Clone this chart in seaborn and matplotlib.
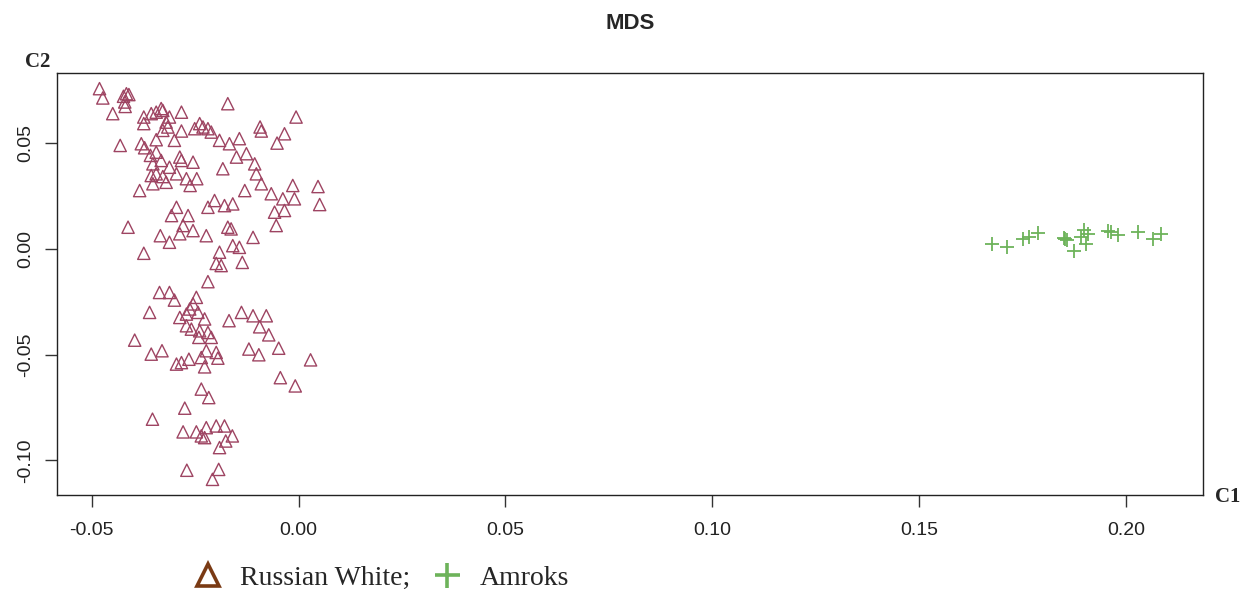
import matplotlib
matplotlib.use("Agg")
import matplotlib.pyplot as plt
from matplotlib.lines import Line2D
import seaborn as sns

# MDS coordinates, Russian White (triangles)
rw_c1 = [-0.0481, -0.0473, -0.0423, -0.0416, -0.0410, -0.0420, -0.0419, -0.0449, -0.0332, -0.0328,
         -0.0344, -0.0356, -0.0374, -0.0374, -0.0312, -0.0283, -0.0320, -0.0316, -0.0328, -0.0283,
         -0.0300, -0.0344, -0.0171, -0.0006, -0.0239, -0.0231, -0.0219, -0.0251, -0.0211, -0.0191,
         -0.0167, -0.0143, -0.0093, -0.0090, -0.0034, -0.0052, -0.0431, -0.0380, -0.0372, -0.0358,
         -0.0344, -0.0332, -0.0352, -0.0312, -0.0287, -0.0283, -0.0255, -0.0295, -0.0356, -0.0344,
         -0.0328, -0.0352, -0.0320, -0.0384, -0.0271, -0.0246, -0.0262, -0.0183, -0.0150, -0.0126,
         -0.0106, -0.0102, -0.0090, -0.0130, -0.0066, -0.0014, 0.0047, -0.0038, -0.0010, 0.0051,
         -0.0058, -0.0034, -0.0203, -0.0219, -0.0179, -0.0159, -0.0295, -0.0307, -0.0267, -0.0279,
         -0.0287, -0.0255, -0.0334, -0.0312, -0.0412, -0.0223, -0.0171, -0.0163, -0.0110, -0.0054,
         -0.0374, -0.0191, -0.0159, -0.0143,
         -0.0199, -0.0187, -0.0136, -0.0219, -0.0336, -0.0312, -0.0300, -0.0247, -0.0255, -0.0263,
         -0.0360, -0.0287, -0.0271, -0.0243, -0.0227, -0.0271, -0.0259, -0.0239, -0.0219, -0.0241,
         -0.0211, -0.0168, -0.0138, -0.0110, -0.0078, -0.0094, -0.0072, -0.0396, -0.0356, -0.0330,
         -0.0295, -0.0283, -0.0265, -0.0235, -0.0223, -0.0227, -0.0199, -0.0195, -0.0120, -0.0096,
         -0.0048, 0.0029, -0.0044, -0.0008, -0.0235, -0.0217, -0.0275, -0.0353, -0.0279, -0.0247,
         -0.0223, -0.0199, -0.0179, -0.0235, -0.0227, -0.0160, -0.0176, -0.0191, -0.0270, -0.0193,
         -0.0208]
rw_c2 = [0.0755, 0.0711, 0.0719, 0.0731, 0.0727, 0.0692, 0.0671, 0.0637, 0.0661, 0.0652,
         0.0644, 0.0637, 0.0621, 0.0590, 0.0621, 0.0644, 0.0597, 0.0574, 0.0558, 0.0555,
         0.0511, 0.0514, 0.0684, 0.0621, 0.0590, 0.0574, 0.0566, 0.0566, 0.0550, 0.0511,
         0.0495, 0.0519, 0.0574, 0.0555, 0.0542, 0.0498, 0.0487, 0.0495, 0.0476, 0.0440,
         0.0455, 0.0416, 0.0400, 0.0384, 0.0432, 0.0416, 0.0408, 0.0353, 0.0345, 0.0353,
         0.0340, 0.0306, 0.0313, 0.0274, 0.0330, 0.0330, 0.0298, 0.0377, 0.0432, 0.0448,
         0.0400, 0.0353, 0.0306, 0.0274, 0.0259, 0.0298, 0.0293, 0.0235, 0.0235, 0.0208,
         0.0172, 0.0180, 0.0227, 0.0195, 0.0203, 0.0211, 0.0195, 0.0156, 0.0156, 0.0109,
         0.0070, 0.0085, 0.0061, 0.0030, 0.0101, 0.0061, 0.0101, 0.0093, 0.0053, 0.0109,
         -0.0022, -0.0017, 0.0014, 0.0006,
         -0.0070, -0.0080, -0.0065, -0.0156, -0.0207, -0.0207, -0.0243, -0.0230, -0.0261, -0.0285,
         -0.0301, -0.0325, -0.0309, -0.0301, -0.0332, -0.0364, -0.0380, -0.0388, -0.0396, -0.0419,
         -0.0419, -0.0340, -0.0301, -0.0317, -0.0317, -0.0369, -0.0407, -0.0432, -0.0498, -0.0482,
         -0.0545, -0.0538, -0.0522, -0.0514, -0.0482, -0.0558, -0.0490, -0.0517, -0.0474, -0.0501,
         -0.0470, -0.0525, -0.0609, -0.0648, -0.0663, -0.0703, -0.0753, -0.0805, -0.0865, -0.0865,
         -0.0845, -0.0837, -0.0837, -0.0884, -0.0892, -0.0884, -0.0908, -0.0939, -0.1046, -0.1042,
         -0.1089]

# MDS coordinates, Amroks (plus signs)
am_c1 = [0.1675, 0.1712, 0.1750, 0.1766, 0.1786, 0.1853, 0.1858, 0.1850, 0.1874, 0.1891,
         0.1899, 0.1903, 0.1907, 0.1955, 0.1963, 0.1981, 0.2029, 0.2064, 0.2084]
am_c2 = [0.0022, 0.0006, 0.0046, 0.0057, 0.0074, 0.0046, 0.0041, 0.0049, -0.0009, 0.0053,
         0.0088, 0.0022, 0.0069, 0.0082, 0.0077, 0.0064, 0.0077, 0.0046, 0.0069]

x_ticks = [-0.05, 0.00, 0.05, 0.10, 0.15, 0.20]
y_ticks = [-0.10, -0.05, 0.00, 0.05]
groups = ["Russian White;", "Amroks"]

tri_col = "#9E4462"
plus_col = "#6DB35A"

sns.set_style("white")
plt.rcParams['font.family'] = ['Liberation Sans', 'DejaVu Sans']

fig = plt.figure(figsize=(12.51, 5.97), dpi=100)
ax = fig.add_axes([0.0456, 0.1709, 0.9164, 0.7068])

sns.scatterplot(x=rw_c1, y=rw_c2, marker="^", s=78, color=tri_col,
                facecolor="none", edgecolor=tri_col, linewidth=1.0, ax=ax, legend=False)
sns.scatterplot(x=am_c1, y=am_c2, marker="+", s=110, color=plus_col,
                linewidth=1.3, ax=ax, legend=False)

# R-style 4% padding around data range
all_x = rw_c1 + am_c1
all_y = rw_c2 + am_c2
dx = (max(all_x) - min(all_x)) * 0.04
dy = (max(all_y) - min(all_y)) * 0.04
ax.set_xlim(min(all_x) - dx, max(all_x) + dx)
ax.set_ylim(min(all_y) - dy, max(all_y) + dy)

ax.set_xticks(x_ticks)
ax.set_xticklabels([f"{v:.2f}" for v in x_ticks])
ax.set_yticks(y_ticks)
ax.set_yticklabels([f"{v:.2f}" for v in y_ticks], rotation=90, va="center")
ax.tick_params(axis="both", bottom=True, left=True, direction="out",
               length=8.5, width=1, colors="#333333", labelcolor="#222222", labelsize=14)
ax.tick_params(axis="x", pad=11)
ax.tick_params(axis="y", pad=8)
for sp in ax.spines.values():
    sp.set_visible(True)
    sp.set_color("#222222")
    sp.set_linewidth(1.0)

ax.set_title("MDS", fontweight="bold", fontsize=16, pad=32)

serif = ["Liberation Serif", "DejaVu Serif"]
fig.text(38 / 1251, 1 - 62 / 597, "C2", family=serif, fontweight="bold",
         fontsize=15, ha="center", va="center")
fig.text(1228 / 1251, 1 - 497 / 597, "C1", family=serif, fontweight="bold",
         fontsize=15, ha="center", va="center")

handles = [Line2D([], [], linestyle="none", marker="^", markersize=16, markeredgewidth=2.6,
                  markerfacecolor="none", markeredgecolor="#7A3A14"),
           Line2D([], [], linestyle="none", marker="+", markersize=18, markeredgewidth=2.6,
                  color=plus_col)]
fig.legend(handles, groups, loc="center left", bbox_to_anchor=(166 / 1251, 1 - 578 / 597),
           ncol=2, frameon=False, prop={"family": serif, "size": 20},
           handlelength=1.2, handletextpad=0.55, columnspacing=0.75)

fig.savefig("out.png", dpi=100)
